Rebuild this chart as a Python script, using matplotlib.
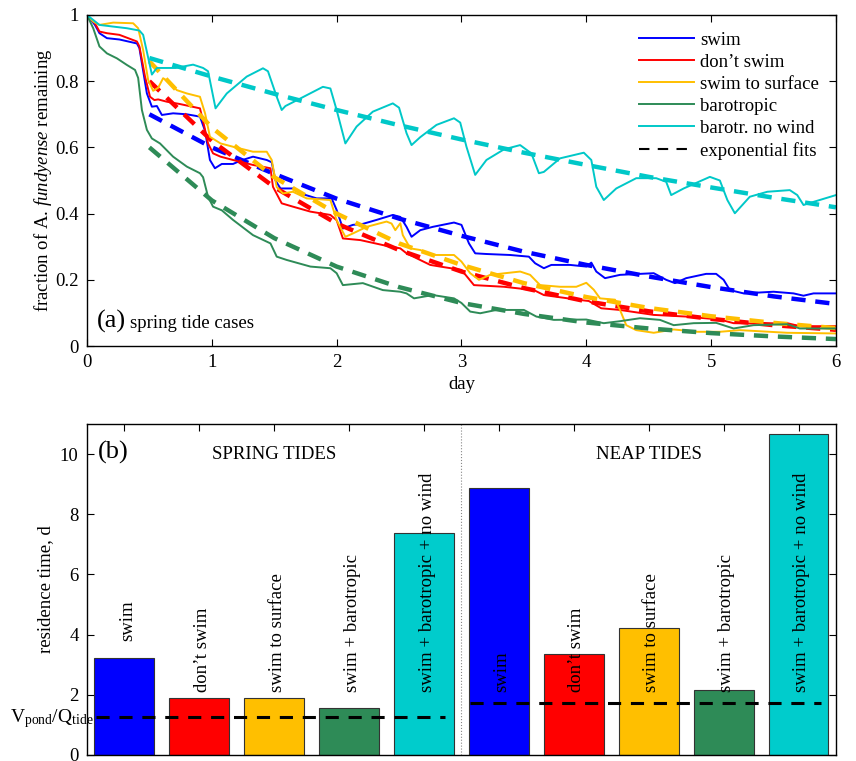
import numpy as np
import matplotlib
matplotlib.use('Agg')
import matplotlib.pyplot as plt
import matplotlib.transforms as mtransforms
from matplotlib.lines import Line2D

plt.rcParams['font.family'] = ['Liberation Serif', 'DejaVu Serif']
plt.rcParams['mathtext.fontset'] = 'custom'
plt.rcParams['mathtext.rm'] = 'Liberation Serif'
plt.rcParams['mathtext.it'] = 'Liberation Serif:italic'
plt.rcParams['font.size'] = 13.5

# ---- panel (a): fraction remaining vs day ----
swim_t = [0, 0.064, 0.10, 0.16, 0.26, 0.40, 0.42, 0.48, 0.52, 0.56, 0.60, 0.69, 0.80, 0.905, 0.946,
          0.985, 1.025, 1.08, 1.17, 1.23, 1.33, 1.44, 1.48, 1.51, 1.55, 1.66, 1.71, 1.84, 1.96, 2.0,
          2.05, 2.13, 2.21, 2.32, 2.45, 2.51, 2.56, 2.60, 2.67, 2.77, 2.94, 3.0, 3.06, 3.11, 3.2,
          3.39, 3.54, 3.59, 3.66, 3.72, 3.87, 4.0, 4.04, 4.08, 4.15, 4.27, 4.54, 4.64, 4.71, 4.80,
          4.96, 5.04, 5.10, 5.15, 5.26, 5.50, 5.66, 5.74, 5.82, 6.0]
swim_y = [1.0, 0.97, 0.945, 0.93, 0.926, 0.914, 0.90, 0.763, 0.723, 0.725, 0.698, 0.703, 0.70, 0.693, 0.65,
          0.562, 0.537, 0.55, 0.55, 0.56, 0.572, 0.562, 0.555, 0.50, 0.476, 0.476, 0.461, 0.446, 0.446, 0.411,
          0.355, 0.366, 0.369, 0.381, 0.396, 0.39, 0.36, 0.33, 0.35, 0.36, 0.373, 0.366, 0.31, 0.28, 0.278,
          0.275, 0.27, 0.25, 0.235, 0.245, 0.245, 0.24, 0.252, 0.225, 0.205, 0.215, 0.22, 0.20, 0.19, 0.205,
          0.218, 0.218, 0.20, 0.169, 0.159, 0.164, 0.159, 0.152, 0.159, 0.159]

noswim_t = [0, 0.064, 0.10, 0.16, 0.26, 0.40, 0.42, 0.465, 0.505, 0.54, 0.57, 0.64, 0.745, 0.905, 0.93,
            0.97, 1.01, 1.07, 1.17, 1.33, 1.47, 1.49, 1.56, 1.65, 1.79, 1.95, 2.0, 2.05, 2.19, 2.37,
            2.51, 2.56, 2.75, 2.83, 3.0, 3.10, 3.34, 3.58, 3.66, 3.95, 4.02, 4.12, 4.27, 4.54, 4.80,
            5.07, 5.18, 5.33, 5.61, 5.71, 6.0]
noswim_y = [1.0, 0.975, 0.95, 0.945, 0.94, 0.92, 0.905, 0.814, 0.753, 0.743, 0.745, 0.738, 0.731, 0.718, 0.68,
            0.612, 0.582, 0.572, 0.562, 0.547, 0.537, 0.481, 0.431, 0.421, 0.406, 0.396, 0.38, 0.325, 0.32, 0.305,
            0.295, 0.28, 0.245, 0.24, 0.23, 0.184, 0.179, 0.169, 0.154, 0.139, 0.136, 0.114, 0.109, 0.094, 0.089,
            0.08, 0.069, 0.068, 0.069, 0.06, 0.06]

surf_t = [0, 0.05, 0.10, 0.21, 0.37, 0.41, 0.45, 0.49, 0.53, 0.57, 0.61, 0.65, 0.72, 0.80, 0.905,
          0.946, 0.985, 1.07, 1.17, 1.33, 1.44, 1.48, 1.52, 1.57, 1.65, 1.76, 1.95, 2.0, 2.07, 2.13,
          2.24, 2.40, 2.44, 2.47, 2.51, 2.53, 2.59, 2.67, 2.77, 2.94, 3.0, 3.07, 3.14, 3.23, 3.47,
          3.55, 3.63, 3.79, 3.92, 4.0, 4.06, 4.11, 4.23, 4.27, 4.32, 4.40, 4.54, 4.70, 4.89, 5.07,
          5.23, 5.61, 6.0]
surf_y = [1.0, 0.98, 0.97, 0.977, 0.975, 0.96, 0.894, 0.804, 0.771, 0.78, 0.809, 0.80, 0.773, 0.763, 0.753,
          0.703, 0.632, 0.612, 0.602, 0.587, 0.587, 0.562, 0.48, 0.461, 0.466, 0.446, 0.441, 0.38, 0.33, 0.34,
          0.36, 0.376, 0.37, 0.35, 0.371, 0.335, 0.295, 0.29, 0.275, 0.275, 0.255, 0.22, 0.20, 0.215, 0.225,
          0.215, 0.184, 0.179, 0.179, 0.191, 0.17, 0.144, 0.14, 0.109, 0.063, 0.048, 0.04, 0.05, 0.043, 0.043,
          0.048, 0.04, 0.038]

baro_t = [0, 0.05, 0.10, 0.16, 0.24, 0.32, 0.385, 0.41, 0.44, 0.48, 0.52, 0.585, 0.69, 0.80, 0.905,
          0.93, 0.97, 1.01, 1.08, 1.17, 1.33, 1.47, 1.52, 1.60, 1.79, 1.95, 2.0, 2.05, 2.21, 2.37,
          2.51, 2.56, 2.62, 2.77, 2.94, 3.0, 3.07, 3.15, 3.28, 3.50, 3.60, 3.74, 4.0, 4.14, 4.27,
          4.43, 4.59, 4.70, 4.86, 5.04, 5.18, 5.34, 5.61, 5.71, 6.0]
baro_y = [1.0, 0.96, 0.905, 0.884, 0.869, 0.849, 0.834, 0.81, 0.713, 0.653, 0.627, 0.612, 0.572, 0.542, 0.522,
          0.51, 0.451, 0.421, 0.41, 0.381, 0.335, 0.31, 0.27, 0.26, 0.24, 0.235, 0.22, 0.184, 0.19, 0.169,
          0.164, 0.159, 0.144, 0.154, 0.144, 0.13, 0.104, 0.099, 0.109, 0.109, 0.089, 0.079, 0.08, 0.069, 0.075,
          0.084, 0.079, 0.063, 0.069, 0.07, 0.053, 0.063, 0.066, 0.053, 0.053]

nowind_t = [0, 0.10, 0.32, 0.42, 0.45, 0.52, 0.56, 0.71, 0.85, 0.93, 0.97, 1.03, 1.12, 1.28, 1.41,
            1.45, 1.52, 1.56, 1.59, 1.71, 1.89, 1.95, 2.0, 2.07, 2.16, 2.29, 2.45, 2.5, 2.56, 2.60,
            2.67, 2.80, 2.94, 2.99, 3.04, 3.11, 3.20, 3.34, 3.47, 3.56, 3.62, 3.66, 3.79, 3.98, 4.04,
            4.08, 4.14, 4.24, 4.40, 4.56, 4.64, 4.68, 4.78, 4.99, 5.07, 5.13, 5.19, 5.31, 5.45, 5.63,
            5.69, 5.74, 5.79, 6.0]
nowind_y = [1.0, 0.97, 0.96, 0.953, 0.94, 0.82, 0.84, 0.84, 0.85, 0.84, 0.83, 0.718, 0.763, 0.814, 0.839,
            0.83, 0.753, 0.713, 0.725, 0.748, 0.783, 0.778, 0.713, 0.612, 0.663, 0.708, 0.733, 0.72, 0.643, 0.607,
            0.631, 0.668, 0.688, 0.675, 0.602, 0.517, 0.562, 0.594, 0.607, 0.582, 0.522, 0.526, 0.567, 0.584, 0.562,
            0.481, 0.441, 0.476, 0.507, 0.507, 0.496, 0.456, 0.476, 0.511, 0.50, 0.441, 0.401, 0.451, 0.466, 0.471,
            0.456, 0.426, 0.432, 0.456]

# exponential fits
fit_t = [0.5, 1.0, 1.5, 2.0, 2.5, 3.0, 3.5, 4.0, 4.5, 5.0, 5.5, 6.0]
fit_swim = [0.70, 0.60, 0.52, 0.445, 0.385, 0.333, 0.285, 0.245, 0.21, 0.178, 0.15, 0.127]
fit_noswim = [0.80, 0.62, 0.48, 0.37, 0.29, 0.225, 0.175, 0.135, 0.105, 0.082, 0.063, 0.049]
fit_surf = [0.86, 0.66, 0.51, 0.40, 0.31, 0.245, 0.19, 0.148, 0.115, 0.09, 0.07, 0.054]
fit_baro = [0.60, 0.44, 0.326, 0.24, 0.178, 0.13, 0.097, 0.071, 0.053, 0.039, 0.029, 0.021]
fit_nowind = [0.87, 0.814, 0.762, 0.713, 0.667, 0.624, 0.584, 0.547, 0.511, 0.479, 0.448, 0.419]

names = ['swim', 'don\u2019t swim', 'swim to surface', 'barotropic', 'barotr. no wind']
colors = ['#0000ff', '#ff0000', '#ffbf00', '#2e8b57', '#00c8c8']

# ---- panel (b): residence times ----
bar_labels = ['swim', 'don\u2019t swim', 'swim to surface', 'swim + barotropic',
              'swim + barotropic + no wind']
spring_res = [3.21, 1.90, 1.90, 1.57, 7.36]
neap_res = [8.88, 3.37, 4.22, 2.16, 10.65]
spring_vq = 1.25
neap_vq = 1.74
bar_colors = ['#0000ff', '#ff0000', '#ffbf00', '#2e8b57', '#00cccc']

fig = plt.figure(figsize=(8.56, 7.61), dpi=100)
ax1 = fig.add_axes([0.1016, 0.5453, 0.875, 0.435])
ax2 = fig.add_axes([0.1016, 0.0079, 0.875, 0.435])

series = [(swim_t, swim_y), (noswim_t, noswim_y), (surf_t, surf_y),
          (baro_t, baro_y), (nowind_t, nowind_y)]
fits = [fit_swim, fit_noswim, fit_surf, fit_baro, fit_nowind]
for (tt, yy), ff, c, n in zip(series, fits, colors, names):
    ax1.plot(tt, yy, color=c, lw=1.4, label=n)
    ax1.plot(fit_t, ff, color=c, lw=3.2, dashes=(3.2, 2.2))

handles, labs = ax1.get_legend_handles_labels()
handles.append(Line2D([], [], color='k', lw=1.5, dashes=(5, 4)))
labs.append('exponential fits')
ax1.legend(handles, labs, loc='upper right', frameon=False, fontsize=13.5,
           handlelength=2.9, handletextpad=0.35, labelspacing=0.26,
           bbox_to_anchor=(1.0, 1.0))

ax1.set_xlim(0, 6)
ax1.set_ylim(0, 1)
ax1.set_xticks(range(7))
ax1.set_yticks([0, 0.2, 0.4, 0.6, 0.8, 1])
ax1.set_yticklabels(['0', '0.2', '0.4', '0.6', '0.8', '1'])
ax1.set_xlabel('day', labelpad=3)
ax1.set_ylabel(r'fraction of A. $\mathit{fundyense}$ remaining', labelpad=1)
ax1.text(0.013, 0.055, '(a)', transform=ax1.transAxes, fontsize=19)
ax1.text(0.058, 0.055, 'spring tide cases', transform=ax1.transAxes, fontsize=13.5)

xs_spring = np.arange(1, 6)
xs_neap = np.arange(6, 11)
ax2.bar(xs_spring, spring_res, width=0.8, color=bar_colors, edgecolor='#333333', lw=0.8, zorder=2)
ax2.bar(xs_neap, neap_res, width=0.8, color=bar_colors, edgecolor='#333333', lw=0.8, zorder=2)

label_y = [3.8, 2.1, 2.1, 2.1, 2.1, 2.1, 2.1, 2.1, 2.1, 2.1]
for x, lab, ly in zip(list(xs_spring) + list(xs_neap), bar_labels + bar_labels, label_y):
    ax2.text(x + 0.04, ly, lab, rotation=90, ha='center', va='bottom', fontsize=13.5, zorder=4)

ax2.plot([0.62, 5.28], [spring_vq, spring_vq], color='k', lw=2.2, dashes=(4.3, 3.2), zorder=3)
ax2.plot([5.62, 10.3], [neap_vq, neap_vq], color='k', lw=2.2, dashes=(4.3, 3.2), zorder=3)
ax2.axvline(5.5, color='#888888', lw=0.8, ls=':', zorder=1)

ax2.set_xlim(0.5, 10.5)
ax2.set_ylim(0, 11)
ax2.set_xticks(range(1, 11))
ax2.set_xticklabels([])
ax2.set_yticks([0, 2, 4, 6, 8, 10])
ax2.set_ylabel('residence time, d', labelpad=4.5)
ax2.text(0.64, 10.05, '(b)', fontsize=19, va='center')
ax2.text(3, 10.0, 'SPRING TIDES', ha='center', va='center', fontsize=13.5)
ax2.text(8, 10.0, 'NEAP TIDES', ha='center', va='center', fontsize=13.5)

trans = mtransforms.blended_transform_factory(fig.transFigure, ax2.transData)
ax2.text(0.012, 1.1, r'V$_{\rm pond}$/Q$_{\rm tide}$', transform=trans, fontsize=14,
         va='baseline', ha='left', clip_on=False, zorder=5)

for ax in (ax1, ax2):
    ax.tick_params(direction='in', top=True, right=True, length=5, labelsize=13.5, pad=6)
    for s in ax.spines.values():
        s.set_linewidth(1.0)

fig.savefig('out.png', dpi=100)
